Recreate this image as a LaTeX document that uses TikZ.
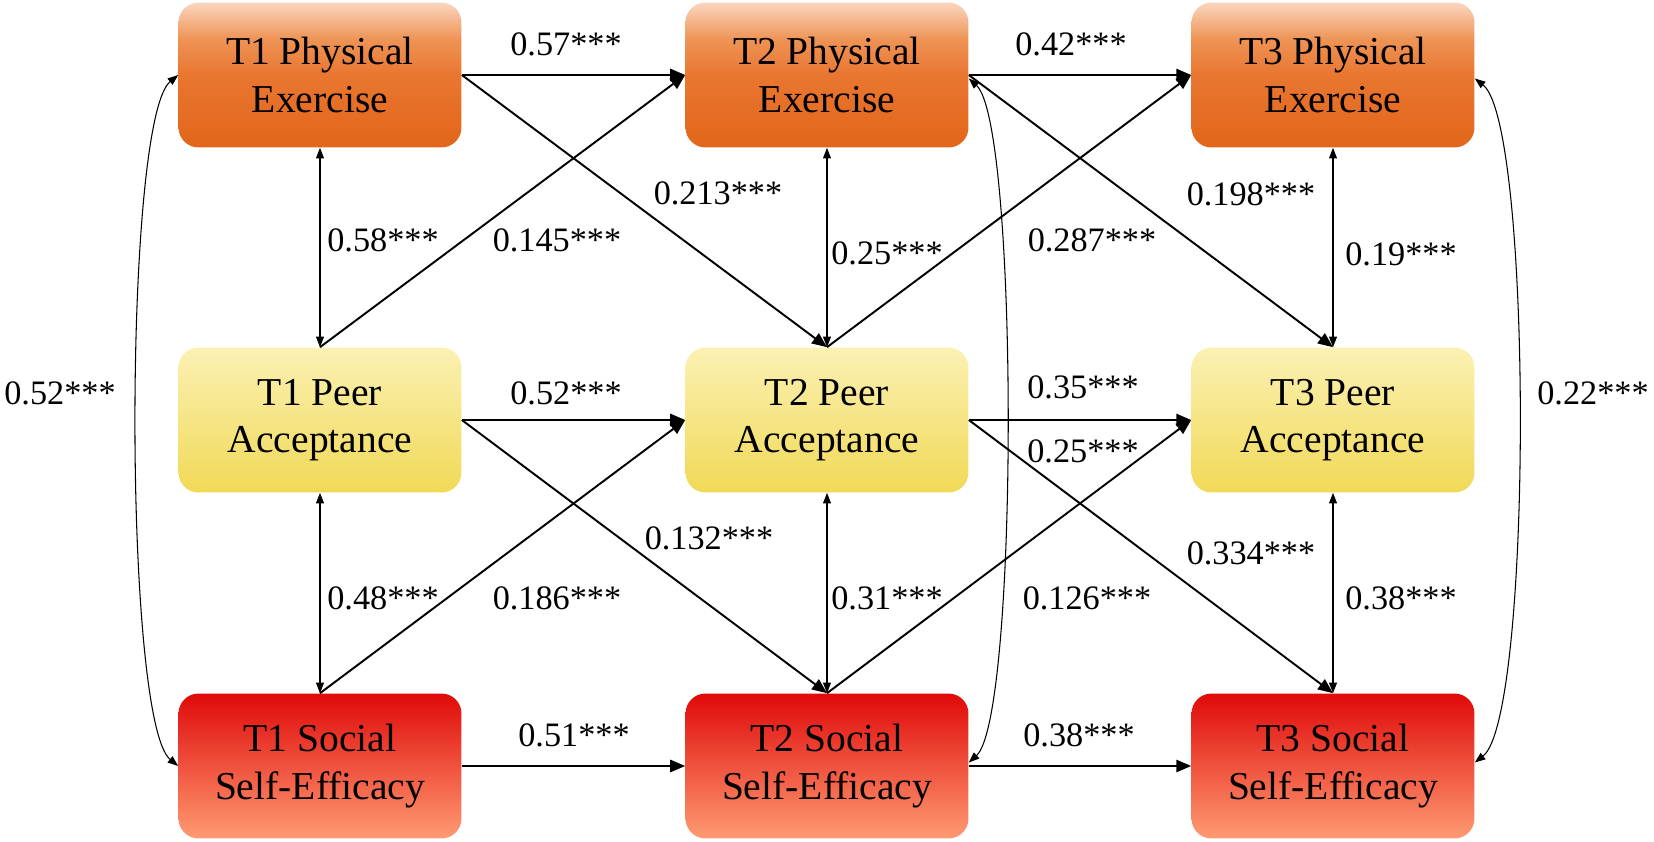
\documentclass[tikz,border=0pt]{standalone}
\usepackage{fontspec}
\setmainfont{Liberation Serif}
\usetikzlibrary{arrows.meta}
\definecolor{peA}{HTML}{E2661A}
\definecolor{peB}{HTML}{E97630}
\definecolor{peC}{HTML}{EE9456}
\definecolor{peD}{HTML}{FAD6C0}
\definecolor{paA}{HTML}{F1D956}
\definecolor{paD}{HTML}{FBF1B4}
\definecolor{ssA}{HTML}{FF9A72}
\definecolor{ssD}{HTML}{E00A0A}
\pgfdeclareverticalshading{peshade}{100bp}{color(0bp)=(peA); color(25bp)=(peA); color(50bp)=(peB); color(62.5bp)=(peC); color(75bp)=(peD); color(100bp)=(peD)}
\pgfdeclareverticalshading{pashade}{100bp}{color(0bp)=(paA); color(25bp)=(paA); color(75bp)=(paD); color(100bp)=(paD)}
\pgfdeclareverticalshading{ssshade}{100bp}{color(0bp)=(ssA); color(25bp)=(ssA); color(75bp)=(ssD); color(100bp)=(ssD)}
\tikzset{
  box/.style={rounded corners=0.4cm, minimum width=5.66cm, minimum height=2.9cm, inner sep=0pt, align=center, font=\fontsize{22.5}{27}\selectfont},
  pebox/.style={box, shade, shading=peshade},
  pabox/.style={box, shade, shading=pashade},
  ssbox/.style={box, shade, shading=ssshade},
  lab/.style={inner sep=0pt, font=\fontsize{19.5}{22}\selectfont},
  reg/.style={line width=1.1pt, -{Triangle[length=8.5pt,width=7pt]}},
  corr/.style={line width=0.6pt, {Triangle[length=6pt,width=4.5pt]}-{Triangle[length=6pt,width=4.5pt]}}
}
\begin{document}
\begin{tikzpicture}[x=0.02cm, y=-0.02cm]
\useasboundingbox (0,0) rectangle (1654,842);
% boxes
\node[pebox] (t1pe) at (320,75) {T1 Physical\\Exercise};
\node[pebox] (t2pe) at (827,75) {T2 Physical\\Exercise};
\node[pebox] (t3pe) at (1333,75) {T3 Physical\\Exercise};
\node[pabox] (t1pa) at (320,420) {T1 Peer\\Acceptance};
\node[pabox] (t2pa) at (827,420) {T2 Peer\\Acceptance};
\node[pabox] (t3pa) at (1333,420) {T3 Peer\\Acceptance};
\node[ssbox] (t1ss) at (320,766) {T1 Social\\Self-Efficacy};
\node[ssbox] (t2ss) at (827,766) {T2 Social\\Self-Efficacy};
\node[ssbox] (t3ss) at (1333,766) {T3 Social\\Self-Efficacy};
% autoregressive paths
\draw[reg] (t1pe.east) -- (t2pe.west);
\draw[reg] (t2pe.east) -- (t3pe.west);
\draw[reg] (t1pa.east) -- (t2pa.west);
\draw[reg] (t2pa.east) -- (t3pa.west);
\draw[reg] (t1ss.east) -- (t2ss.west);
\draw[reg] (t2ss.east) -- (t3ss.west);
% cross-lagged paths
\draw[reg] (t1pe.east) -- (t2pa.north);
\draw[reg] (t1pa.north) -- (t2pe.west);
\draw[reg] (t1pa.east) -- (t2ss.north);
\draw[reg] (t1ss.north) -- (t2pa.west);
\draw[reg] (t2pe.east) -- (t3pa.north);
\draw[reg] (t2pa.north) -- (t3pe.west);
\draw[reg] (t2pa.east) -- (t3ss.north);
\draw[reg] (t2ss.north) -- (t3pa.west);
% within-time correlations
\draw[corr] (t1pe.south) -- (t1pa.north);
\draw[corr] (t1pa.south) -- (t1ss.north);
\draw[corr] (t2pe.south) -- (t2pa.north);
\draw[corr] (t2pa.south) -- (t2ss.north);
\draw[corr] (t3pe.south) -- (t3pa.north);
\draw[corr] (t3pa.south) -- (t3ss.north);
% curved correlations
\draw[corr] (t1pe.west) .. controls +(-55,45) and +(-55,-45) .. (t1ss.west);
\draw[corr] ([yshift=-2pt]t2pe.east) .. controls +(50,45) and +(50,-45) .. ([yshift=2pt]t2ss.east);
\draw[corr] ([yshift=-2pt]t3pe.east) .. controls +(58,45) and +(58,-45) .. ([yshift=2pt]t3ss.east);
% labels
\node[lab] (l1) at (566,44) {0.57***};
\node[lab] (l2) at (1071,44) {0.42***};
\node[lab] (l3) at (383,240) {0.58***};
\node[lab] (l4) at (557,240) {0.145***};
\node[lab] (l5) at (718,193) {0.213***};
\node[lab] (l6) at (887,253) {0.25***};
\node[lab] (l7) at (1092,240) {0.287***};
\node[lab] (l8) at (1251,194) {0.198***};
\node[lab] (l9) at (1401,254) {0.19***};
\node[lab] (l10) at (60,393) {0.52***};
\node[lab] (l11) at (566,393) {0.52***};
\node[lab] (l12) at (1083,387) {0.35***};
\node[lab] (l13) at (1083,451) {0.25***};
\node[lab] (l14) at (1593,393) {0.22***};
\node[lab] (l15) at (709,538) {0.132***};
\node[lab] (l16) at (1251,553) {0.334***};
\node[lab] (l17) at (383,598) {0.48***};
\node[lab] (l18) at (557,598) {0.186***};
\node[lab] (l19) at (887,598) {0.31***};
\node[lab] (l20) at (1087,598) {0.126***};
\node[lab] (l21) at (1401,598) {0.38***};
\node[lab] (l22) at (574,735) {0.51***};
\node[lab] (l23) at (1079,735) {0.38***};
\end{tikzpicture}
\end{document}
